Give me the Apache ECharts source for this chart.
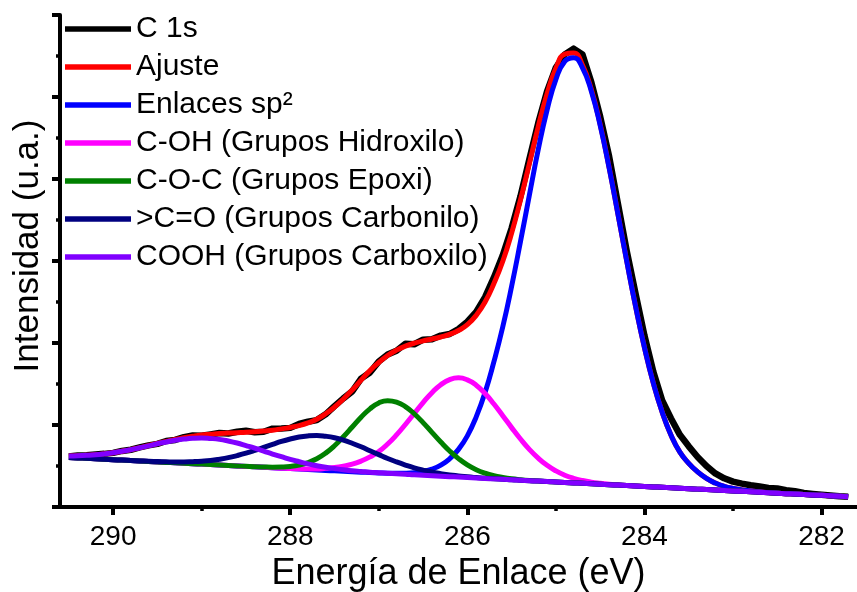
<!DOCTYPE html>
<html>
<head>
<meta charset="utf-8">
<script src="https://cdn.jsdelivr.net/npm/echarts@6/dist/echarts.min.js"></script>
<style>
  html, body { margin: 0; padding: 0; background: #ffffff; }
  #chart { width: 857px; height: 592px; }
</style>
</head>
<body>
<div id="chart"></div>
<script>
// ---- C 1s XPS region, binding energy in 0.1 eV steps ----
const energy = [
  290.5, 290.4, 290.3, 290.2, 290.1, 290.0, 289.9, 289.8, 289.7, 289.6,
  289.5, 289.4, 289.3, 289.2, 289.1, 289.0, 288.9, 288.8, 288.7, 288.6,
  288.5, 288.4, 288.3, 288.2, 288.1, 288.0, 287.9, 287.8, 287.7, 287.6,
  287.5, 287.4, 287.3, 287.2, 287.1, 287.0, 286.9, 286.8, 286.7, 286.6,
  286.5, 286.4, 286.3, 286.2, 286.1, 286.0, 285.9, 285.8, 285.7, 285.6,
  285.5, 285.4, 285.3, 285.2, 285.1, 285.0, 284.9, 284.8, 284.7, 284.6,
  284.5, 284.4, 284.3, 284.2, 284.1, 284.0, 283.9, 283.8, 283.7, 283.6,
  283.5, 283.4, 283.3, 283.2, 283.1, 283.0, 282.9, 282.8, 282.7, 282.6,
  282.5, 282.4, 282.3, 282.2, 282.1, 282.0, 281.9, 281.8, 281.7
];

// measured C 1s intensity
const c1sCounts = [
  0.615, 0.628, 0.632, 0.640, 0.648, 0.660, 0.684, 0.698, 0.726, 0.752,
  0.770, 0.805, 0.818, 0.852, 0.872, 0.868, 0.884, 0.902, 0.896, 0.918,
  0.930, 0.912, 0.918, 0.955, 0.958, 0.965, 1.012, 1.040, 1.060, 1.130,
  1.230, 1.325, 1.410, 1.565, 1.640, 1.775, 1.860, 1.905, 1.990, 1.985,
  2.040, 2.045, 2.090, 2.110, 2.170, 2.260, 2.380, 2.560, 2.800, 3.070,
  3.400, 3.790, 4.240, 4.680, 5.070, 5.360, 5.520, 5.590, 5.520, 5.180,
  4.760, 4.280, 3.700, 3.120, 2.600, 2.090, 1.650, 1.300, 1.080, 0.880,
  0.740, 0.610, 0.500, 0.410, 0.350, 0.310, 0.285, 0.265, 0.250, 0.232,
  0.225, 0.205, 0.192, 0.172, 0.160, 0.150, 0.140, 0.130, 0.124
];

// fit envelope
const fitEnvelope = [
  0.622, 0.625, 0.630, 0.637, 0.648, 0.662, 0.680, 0.700, 0.724, 0.748,
  0.775, 0.800, 0.824, 0.844, 0.863, 0.878, 0.887, 0.896, 0.901, 0.906,
  0.911, 0.918, 0.927, 0.937, 0.953, 0.970, 0.993, 1.026, 1.071, 1.137,
  1.219, 1.317, 1.427, 1.548, 1.663, 1.762, 1.848, 1.913, 1.962, 1.997,
  2.026, 2.049, 2.073, 2.105, 2.152, 2.223, 2.337, 2.499, 2.725, 2.997,
  3.340, 3.745, 4.186, 4.637, 5.038, 5.350, 5.523, 5.536, 5.390, 5.091,
  4.664, 4.146, 3.577, 2.998, 2.444, 1.943, 1.511, 1.157, 0.875, 0.669,
  0.533, 0.428, 0.348, 0.292, 0.252, 0.226, 0.208, 0.194, 0.184, 0.176,
  0.169, 0.163, 0.158, 0.153, 0.147, 0.142, 0.136, 0.131, 0.125
];

// C=C sp2 component (on the background)
const sp2Peak = [
  0.604, 0.599, 0.594, 0.588, 0.583, 0.577, 0.572, 0.566, 0.561, 0.555,
  0.550, 0.544, 0.539, 0.533, 0.528, 0.523, 0.517, 0.512, 0.506, 0.501,
  0.495, 0.490, 0.485, 0.479, 0.474, 0.468, 0.463, 0.457, 0.452, 0.446,
  0.441, 0.436, 0.430, 0.425, 0.420, 0.416, 0.412, 0.411, 0.412, 0.418,
  0.434, 0.462, 0.511, 0.588, 0.703, 0.868, 1.099, 1.396, 1.772, 2.198,
  2.692, 3.237, 3.801, 4.356, 4.840, 5.215, 5.435, 5.480, 5.356, 5.071,
  4.653, 4.140, 3.574, 2.996, 2.444, 1.943, 1.511, 1.157, 0.875, 0.669,
  0.533, 0.428, 0.348, 0.292, 0.252, 0.226, 0.208, 0.194, 0.184, 0.176,
  0.169, 0.163, 0.158, 0.153, 0.147, 0.142, 0.136, 0.131, 0.125
];

// C-OH component
const hydroxylPeak = [
  0.604, 0.599, 0.594, 0.588, 0.583, 0.577, 0.572, 0.566, 0.561, 0.555,
  0.550, 0.544, 0.539, 0.533, 0.528, 0.523, 0.517, 0.512, 0.506, 0.501,
  0.495, 0.490, 0.485, 0.479, 0.474, 0.468, 0.465, 0.462, 0.462, 0.471,
  0.481, 0.498, 0.522, 0.560, 0.611, 0.676, 0.768, 0.879, 1.006, 1.140,
  1.274, 1.394, 1.491, 1.553, 1.575, 1.551, 1.486, 1.384, 1.256, 1.114,
  0.968, 0.829, 0.703, 0.596, 0.508, 0.440, 0.388, 0.350, 0.323, 0.303,
  0.289, 0.278, 0.270, 0.263, 0.256, 0.251, 0.245, 0.240, 0.234, 0.229,
  0.223, 0.218, 0.213, 0.207, 0.202, 0.196, 0.191, 0.185, 0.180, 0.174,
  0.169, 0.163, 0.158, 0.153, 0.147, 0.142, 0.136, 0.131, 0.125
];

// C-O-C component
const epoxyPeak = [
  0.604, 0.599, 0.594, 0.588, 0.583, 0.577, 0.572, 0.566, 0.561, 0.555,
  0.550, 0.544, 0.539, 0.533, 0.528, 0.523, 0.517, 0.512, 0.506, 0.501,
  0.496, 0.491, 0.488, 0.486, 0.488, 0.495, 0.512, 0.542, 0.589, 0.657,
  0.747, 0.856, 0.975, 1.095, 1.197, 1.269, 1.297, 1.280, 1.225, 1.137,
  1.029, 0.910, 0.792, 0.683, 0.590, 0.513, 0.455, 0.412, 0.381, 0.360,
  0.344, 0.333, 0.324, 0.317, 0.310, 0.305, 0.300, 0.294, 0.289, 0.283,
  0.278, 0.272, 0.267, 0.261, 0.256, 0.251, 0.245, 0.240, 0.234, 0.229,
  0.223, 0.218, 0.213, 0.207, 0.202, 0.196, 0.191, 0.185, 0.180, 0.174,
  0.169, 0.163, 0.158, 0.153, 0.147, 0.142, 0.136, 0.131, 0.125
];

// >C=O component
const carbonylPeak = [
  0.604, 0.599, 0.594, 0.588, 0.583, 0.577, 0.572, 0.567, 0.562, 0.557,
  0.554, 0.551, 0.549, 0.549, 0.553, 0.559, 0.568, 0.583, 0.602, 0.627,
  0.656, 0.690, 0.727, 0.763, 0.799, 0.829, 0.853, 0.867, 0.872, 0.863,
  0.845, 0.816, 0.777, 0.734, 0.686, 0.639, 0.592, 0.550, 0.512, 0.478,
  0.450, 0.426, 0.407, 0.391, 0.379, 0.368, 0.359, 0.351, 0.345, 0.339,
  0.332, 0.327, 0.321, 0.316, 0.310, 0.305, 0.300, 0.294, 0.289, 0.283,
  0.278, 0.272, 0.267, 0.261, 0.256, 0.251, 0.245, 0.240, 0.234, 0.229,
  0.223, 0.218, 0.213, 0.207, 0.202, 0.196, 0.191, 0.185, 0.180, 0.174,
  0.169, 0.163, 0.158, 0.153, 0.147, 0.142, 0.136, 0.131, 0.125
];

// COOH component
const carboxylPeak = [
  0.622, 0.625, 0.630, 0.637, 0.648, 0.662, 0.680, 0.699, 0.723, 0.746,
  0.771, 0.793, 0.814, 0.828, 0.838, 0.842, 0.836, 0.825, 0.805, 0.780,
  0.749, 0.717, 0.682, 0.646, 0.613, 0.580, 0.552, 0.526, 0.504, 0.484,
  0.469, 0.455, 0.443, 0.434, 0.425, 0.418, 0.411, 0.405, 0.399, 0.392,
  0.387, 0.381, 0.376, 0.370, 0.365, 0.359, 0.354, 0.348, 0.343, 0.338,
  0.332, 0.327, 0.321, 0.316, 0.310, 0.305, 0.300, 0.294, 0.289, 0.283,
  0.278, 0.272, 0.267, 0.261, 0.256, 0.251, 0.245, 0.240, 0.234, 0.229,
  0.223, 0.218, 0.213, 0.207, 0.202, 0.196, 0.191, 0.185, 0.180, 0.174,
  0.169, 0.163, 0.158, 0.153, 0.147, 0.142, 0.136, 0.131, 0.125
];

// axis ticks
const majorTicksX = [282, 284, 286, 288, 290];
const minorTicksX = [283, 285, 287, 289];

const FONT = '"Liberation Sans", Arial, Helvetica, sans-serif';
const pair = (xs, ys) => xs.map((x, i) => [x, ys[i]]);

const curves = [
  { name: 'C 1s', data: c1sCounts, color: '#000000', width: 6.5, smooth: false },
  { name: 'Ajuste', data: fitEnvelope, color: '#ff0000', width: 5, smooth: true },
  { name: 'Enlaces sp²', data: sp2Peak, color: '#0000ff', width: 5, smooth: true },
  { name: 'C-OH (Grupos Hidroxilo)', data: hydroxylPeak, color: '#ff00ff', width: 5, smooth: true },
  { name: 'C-O-C (Grupos Epoxi)', data: epoxyPeak, color: '#008000', width: 5, smooth: true },
  { name: '>C=O (Grupos Carbonilo)', data: carbonylPeak, color: '#000080', width: 5, smooth: true },
  { name: 'COOH (Grupos Carboxilo)', data: carboxylPeak, color: '#8000ff', width: 5, smooth: true }
];

const series = curves.map(c => ({
  name: c.name,
  type: 'line',
  data: pair(energy, c.data),
  symbol: 'none',
  smooth: c.smooth,
  lineStyle: { color: c.color, width: c.width, join: 'round' },
  itemStyle: { color: c.color }
}));

const chart = echarts.init(document.getElementById('chart'), null, { renderer: 'canvas' });
chart.setOption({
  animation: false,
  backgroundColor: '#ffffff',
  grid: { left: 60, right: 0, top: 15, bottom: 85, containLabel: false, outerBoundsMode: 'none' },
  xAxis: [{
    type: 'value',
    min: 281.6,
    max: 290.6,
    inverse: true,
    axisLine: { show: true, onZero: false, lineStyle: { color: '#000', width: 4 } },
    axisTick: { show: true, customValues: majorTicksX, length: 8, lineStyle: { color: '#000', width: 4 } },
    axisLabel: {
      customValues: majorTicksX, fontSize: 28, color: '#000', fontFamily: FONT, margin: 16,
      formatter: v => String(v)
    },
    splitLine: { show: false },
    name: 'Energía de Enlace (eV)',
    nameLocation: 'middle',
    nameGap: 43,
    nameTextStyle: { fontSize: 36, color: '#000', fontFamily: FONT }
  }, {
    type: 'value',
    min: 281.6,
    max: 290.6,
    inverse: true,
    position: 'bottom',
    axisLine: { show: false, onZero: false },
    axisTick: { show: true, customValues: minorTicksX, length: 4, lineStyle: { color: '#000', width: 3.5 } },
    axisLabel: { show: false },
    splitLine: { show: false }
  }],
  yAxis: {
    type: 'value',
    min: 0,
    max: 6,
    interval: 1,
    axisLine: { show: true, onZero: false, lineStyle: { color: '#000', width: 4 } },
    axisTick: { show: true, length: 8, lineStyle: { color: '#000', width: 4 } },
    minorTick: { show: true, splitNumber: 2, length: 4, lineStyle: { color: '#000', width: 3.5 } },
    axisLabel: { show: false },
    splitLine: { show: false },
    minorSplitLine: { show: false }
  },
  legend: {
    orient: 'vertical',
    left: 65,
    top: 14,
    padding: 0,
    itemGap: 8,
    itemWidth: 66,
    itemHeight: 5.5,
    icon: 'rect',
    selectedMode: false,
    textStyle: { fontSize: 30, fontFamily: FONT, color: '#000', lineHeight: 30 },
    data: curves.map(c => c.name)
  },
  graphic: [{
    type: 'text',
    x: 28,
    y: 246,
    rotation: Math.PI / 2,
    style: {
      text: 'Intensidad (u.a.)',
      font: '35px ' + FONT,
      fill: '#000',
      align: 'center',
      verticalAlign: 'middle'
    }
  }],
  series: series
});
</script>
</body>
</html>
